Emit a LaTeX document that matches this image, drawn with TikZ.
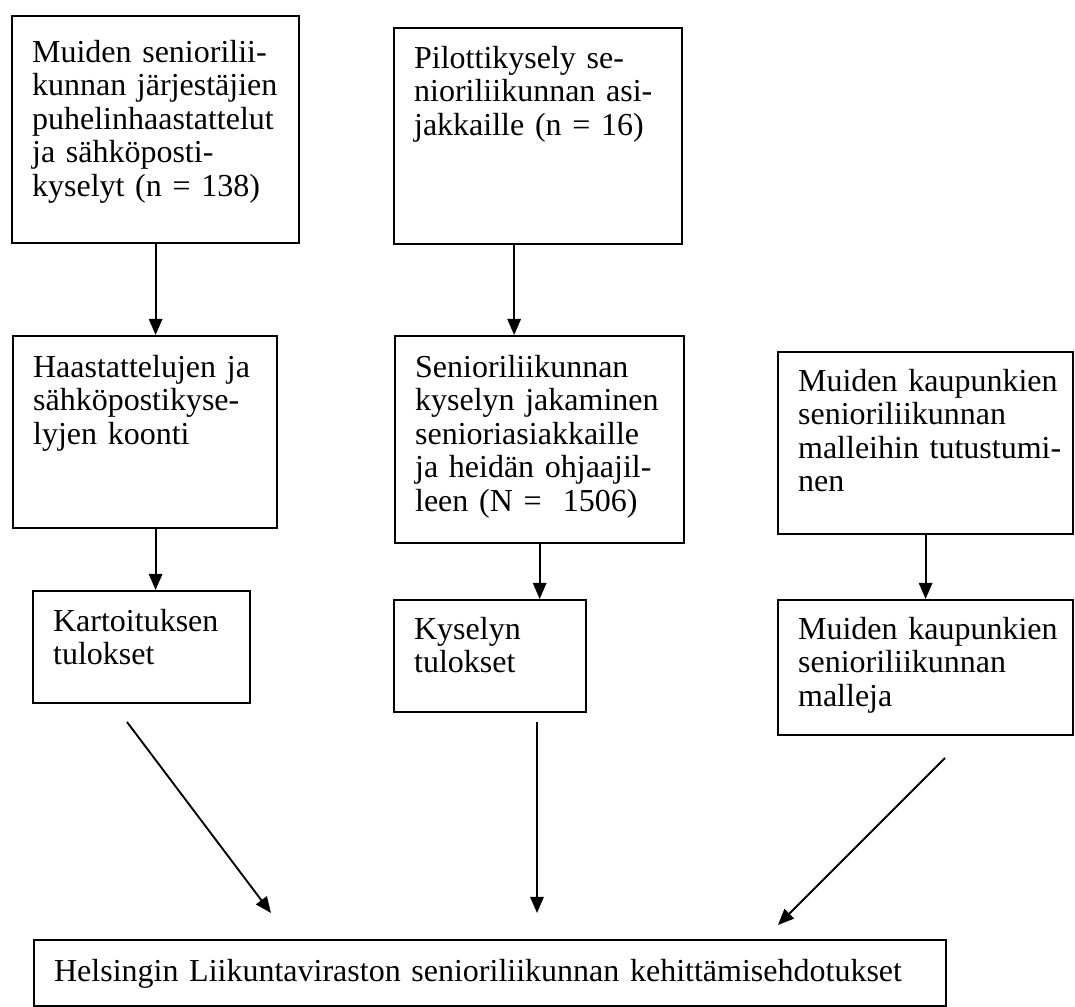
\documentclass[tikz,border=0pt]{standalone}
\usepackage{fontspec}
\setmainfont{Liberation Serif}
\usetikzlibrary{arrows.meta}
\begin{document}
\begin{tikzpicture}[x=0.375pt,y=-0.375pt,
  box/.style={draw, line width=0.85pt, anchor=north west, align=left,
    inner xsep=7.5pt, inner ysep=0pt, font=\fontsize{12}{12.6}\selectfont},
  flow/.style={line width=0.7pt, -{Triangle[length=6pt,width=5pt]}}]
\useasboundingbox (0,0) rectangle (1075,1007);

\node[box, text width=92.6pt, text height=17.25pt, text depth=67.9pt] (b1) at (11,15)
  {Muiden~seniorilii-\\kunnan~järjestäjien\\puhelinhaastattelut\\ja~sähköposti-\\kyselyt~(n~=~138)};
\node[box, text width=93pt, text height=15pt, text depth=66pt] (b2) at (393,27)
  {Pilottikysely~se-\\nioriliikunnan~asi-\\jakkaille~(n~=~16)};
\node[box, text width=84pt, text height=15.4pt, text depth=56.6pt] (b3) at (12,335)
  {Haastattelujen~ja\\sähköpostikyse-\\lyjen~koonti};
\node[box, text width=93.4pt, text height=15.4pt, text depth=62.2pt] (b4) at (394,335)
  {Senioriliikunnan\\kyselyn~jakaminen\\senioriasiakkaille\\ja~heidän~ohjaajil-\\leen~(N~=~~1506)};
\node[box, text width=95.6pt, text height=14.6pt, text depth=53.6pt] (b5) at (777,351)
  {\mbox{Muiden kaupunkien}\\senioriliikunnan\\\mbox{malleihin tutustumi-}\\nen};
\node[box, text width=66.4pt, text height=15pt, text depth=27pt] (b6) at (32,590)
  {Kartoituksen\\tulokset};
\node[box, text width=57pt, text height=14.6pt, text depth=27.4pt] (b7) at (393,599)
  {Kyselyn\\tulokset};
\node[box, text width=95.6pt, text height=14.6pt, text depth=36pt] (b8) at (777,599)
  {\mbox{Muiden kaupunkien}\\senioriliikunnan\\malleja};
\node[box, text width=327pt, text height=15.4pt, text depth=9.4pt] (b9) at (33,939)
  {Helsingin Liikuntaviraston senioriliikunnan kehittämisehdotukset};

\coordinate (l1) at (127,722);
\coordinate (l2) at (271,913);
\coordinate (c1) at (537,722);
\coordinate (c2) at (537,913);
\coordinate (r1) at (945,758);
\coordinate (r2) at (778,925);

\draw[flow] (b1.south) -- (b1.south |- b3.north);
\draw[flow] ([xshift=-9pt]b2.south) -- ([xshift=-9pt]b2.south |- b4.north);
\draw[flow] (b3.south -| b1.south) -- (b6.north -| b1.south);
\draw[flow] (b4.south) -- (b4.south |- b7.north);
\draw[flow] (b5.south) -- (b5.south |- b8.north);
\draw[flow] (l1) -- (l2);
\draw[flow] (c1) -- (c2);
\draw[flow] (r1) -- (r2);
\end{tikzpicture}
\end{document}
